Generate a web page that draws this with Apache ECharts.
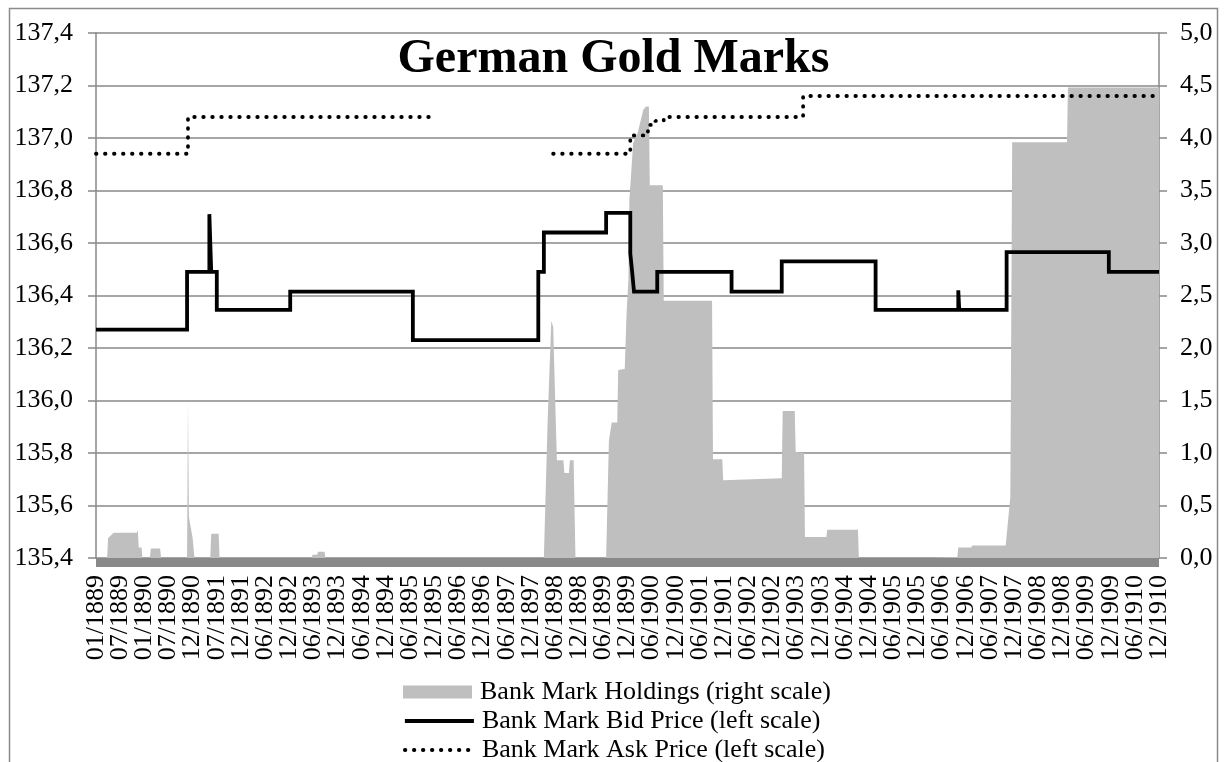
<!DOCTYPE html>
<html>
<head>
<meta charset="utf-8">
<script src="https://cdn.jsdelivr.net/npm/echarts@6/dist/echarts.min.js"></script>
<style>
html,body{margin:0;padding:0;background:#fff;}
#chart{width:1227px;height:762px;}
</style>
</head>
<body>
<div id="chart"></div>
<script>
// x values are weeks since the first week of January 1889; a tick label every 26 weeks
const tickLabels = ['01/1889','07/1889','01/1890','07/1890','12/1890','07/1891','12/1891','06/1892','12/1892','06/1893','12/1893','06/1894','12/1894','06/1895','12/1895','06/1896','12/1896','06/1897','12/1897','06/1898','12/1898','06/1899','12/1899','06/1900','12/1900','06/1901','12/1901','06/1902','12/1902','06/1903','12/1903','06/1904','12/1904','06/1905','12/1905','06/1906','12/1906','06/1907','12/1907','06/1908','12/1908','06/1909','12/1909','06/1910','12/1910'];
const WEEKS_PER_LABEL = 26;

const seriesNames = ['Bank Mark Holdings (right scale)', 'Bank Mark Bid Price (left scale)', 'Bank Mark Ask Price (left scale)'];

// Bank Mark Holdings (right scale) [week, value]
const holdings = [
  [0,0],[12,0],[13,0.19],[19,0.24],[44,0.24],[45,0.27],[46,0.10],[49,0.10],[50,0],
  [58,0],[59,0.09],[69,0.09],[70,0],
  [98,0],[99,1.49],[100,0.39],[104,0.19],[105,0.19],[106,0],
  [123,0],[124,0.23],[132,0.23],[133,0],
  [232,0],[233,0.03],[238,0.03],[239,0.06],[246,0.06],[247,0],
  [482,0],[486,1.29],[490,2.26],[492,2.2],[496,0.93],[503,0.93],[504,0.81],[509,0.81],[510,0.93],[514,0.93],[516,0],
  [549,0],[552,1.12],[555,1.29],[561,1.29],[562,1.79],[569,1.8],[571,2.33],[573,2.65],[574,3.41],[576,3.67],[578,3.95],[583,4.05],[589,4.27],[592,4.3],[595,4.3],[596,3.55],[610,3.55],[611,2.45],[663,2.45],[664,0.94],[674,0.94],[675,0.74],[738,0.76],[739,1.40],[752,1.40],[753,1.01],[762,1.0],[763,0.2],[786,0.2],[787,0.27],[820,0.27],[821,0],
  [900,0],[901,0.01],[927,0.01],[928,0.1],[942,0.1],[943,0.12],[979,0.12],[984,0.58],[986,3.96],[1045,3.96],[1046,4.48],[1144,4.48]
];

// Bank Mark Bid Price (left scale) [week of change, new value]
const bidPrice = [
  [0,136.27],[98,136.49],[122,136.71],[124,136.49],[130,136.345],[209,136.415],[341,136.23],
  [476,136.49],[482,136.64],[549,136.715],[575,136.56],[577,136.49],[579,136.415],[604,136.49],
  [684,136.415],[738,136.53],[839,136.345],[928,136.42],[929,136.345],[980,136.565],[1090,136.49],[1144,136.49]
];

// Bank Mark Ask Price (left scale) [week of change, new value]; '-' = no quote
const askPrice = [
  [0,136.94],[99,137.08],[365,137.08],[366,'-'],
  [492,136.94],[575,137.01],[594,137.05],[602,137.065],[611,137.08],[761,137.16],[1144,137.16]
];

const FONT = 'Liberation Serif';
const comma = v => v.toFixed(1).replace('.', ',');

const bidLine = {color: '#000', width: 3.8, join: 'miter'};
const askLine = {color: '#000', width: 3.8, type: [0.5, 8.5], cap: 'round'};

const legendBase = {
  orient: 'vertical',
  left: 398,
  itemWidth: 69,
  itemHeight: 13,
  textStyle: {fontFamily: FONT, fontSize: 26, lineHeight: 26, color: '#000', padding: [0, 0, 0, 3]}
};
const hiddenSymbol = {color: 'rgba(0,0,0,0)', borderWidth: 0, opacity: 0};

const chart = echarts.init(document.getElementById('chart'), null, {renderer: 'canvas'});
chart.setOption({
  backgroundColor: '#fff',
  animation: false,
  title: {
    text: 'German Gold Marks',
    left: 'center',
    top: 31,
    textStyle: {fontFamily: FONT, fontWeight: 'bold', fontSize: 48, color: '#000'}
  },
  graphic: [{
    type: 'rect', silent: true, z: -10,
    shape: {x: 9.5, y: 8.5, width: 1208, height: 800},
    style: {fill: 'none', stroke: '#8a8a8a', lineWidth: 1.5}
  }],
  legend: [
    Object.assign({}, legendBase, {top: 674, data: [{name: seriesNames[0], icon: 'rect'}]}),
    Object.assign({}, legendBase, {top: 703, data: [{name: seriesNames[1], itemStyle: hiddenSymbol, lineStyle: bidLine}]}),
    Object.assign({}, legendBase, {top: 732, data: [{name: seriesNames[2], itemStyle: hiddenSymbol, lineStyle: askLine}]})
  ],
  grid: {left: 96, right: 68, top: 33, bottom: 204, containLabel: false},
  xAxis: [{
    type: 'value',
    min: 0,
    max: (tickLabels.length - 1) * WEEKS_PER_LABEL,
    interval: WEEKS_PER_LABEL,
    offset: 4,
    axisLine: {show: true, onZero: false, lineStyle: {color: '#898989', width: 9, cap: 'butt'}},
    axisTick: {show: false},
    splitLine: {show: false},
    axisLabel: {show: false}
  }, {
    type: 'category',
    data: tickLabels,
    boundaryGap: false,
    position: 'bottom',
    offset: 4,
    axisLine: {show: false},
    axisTick: {show: false},
    splitLine: {show: false},
    axisLabel: {
      interval: 0,
      rotate: 90,
      margin: 13,
      lineHeight: 18,
      fontFamily: FONT, fontSize: 26, color: '#000'
    }
  }],
  yAxis: [{
    type: 'value',
    position: 'left',
    min: 135.4,
    max: 137.4,
    interval: 0.2,
    axisLine: {show: true, lineStyle: {color: '#888', width: 1.5}},
    axisTick: {show: true, length: 8, lineStyle: {color: '#888', width: 1.5}},
    splitLine: {show: true, lineStyle: {color: '#888', width: 1.5}},
    axisLabel: {margin: 23, fontFamily: FONT, fontSize: 26, color: '#000', formatter: comma}
  }, {
    type: 'value',
    position: 'right',
    min: 0,
    max: 5,
    interval: 0.5,
    axisLine: {show: true, lineStyle: {color: '#888', width: 1.5}},
    axisTick: {show: true, length: 8, lineStyle: {color: '#888', width: 1.5}},
    splitLine: {show: false},
    axisLabel: {margin: 21, fontFamily: FONT, fontSize: 26, color: '#000', formatter: comma}
  }],
  series: [{
    name: seriesNames[0],
    type: 'line',
    xAxisIndex: 0,
    yAxisIndex: 1,
    data: holdings,
    symbol: 'none',
    z: 1,
    itemStyle: {color: '#bfbfbf'},
    lineStyle: {width: 0, color: '#bfbfbf'},
    areaStyle: {color: '#bfbfbf', opacity: 1}
  }, {
    name: seriesNames[1],
    type: 'line',
    xAxisIndex: 0,
    yAxisIndex: 0,
    data: bidPrice,
    step: 'end',
    symbol: 'none',
    z: 3,
    itemStyle: {color: '#000'},
    lineStyle: bidLine
  }, {
    name: seriesNames[2],
    type: 'line',
    xAxisIndex: 0,
    yAxisIndex: 0,
    data: askPrice,
    step: 'end',
    symbol: 'none',
    z: 3,
    connectNulls: false,
    itemStyle: {color: '#000'},
    lineStyle: askLine
  }]
});
</script>
</body>
</html>
